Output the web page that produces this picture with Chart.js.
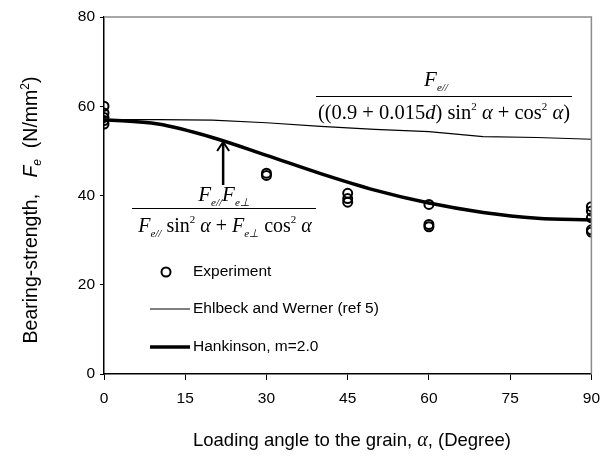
<!DOCTYPE html>
<html>
<head>
<meta charset="utf-8">
<script src="https://cdn.jsdelivr.net/npm/chart.js@4/dist/chart.umd.min.js"></script>
<style>
  html, body { margin: 0; padding: 0; background: #fff; }
  #wrap { width: 609px; height: 463px; }
</style>
</head>
<body>
<div id="wrap"><canvas id="chart" width="609" height="463"></canvas></div>
<script>
// datos
const expAngles = [0, 0, 0, 0, 0, 30, 30, 45, 45, 45, 60, 60, 60, 90, 90, 90, 90, 90];
const expValues = [60, 58.5, 57.5, 56.8, 56, 44.5, 45, 40.5, 39.3, 38.5, 38, 33.5, 33, 37.5, 36.5, 35, 32.3, 31.8];

const lineAngles = [0, 10, 20, 30, 40, 50, 60, 70, 80, 90];
const ehlbeckValues = [57, 57, 56.9, 56.3, 55.5, 54.8, 54.3, 53.2, 53, 52.6];
const hankinsonValues = [57, 56, 53, 49, 44.9, 41.2, 38.3, 36.2, 34.9, 34.5];

const xTicks = [0, 15, 30, 45, 60, 75, 90];
const yTicks = [0, 20, 40, 60, 80];

const seriesLabels = ['Experiment', 'Ehlbeck and Werner (ref 5)', 'Hankinson, m=2.0'];

const SANS = '"Liberation Sans", Arial, sans-serif';
const SERIF = '"Liberation Serif", "Times New Roman", serif';

function toPoints(xs, ys) {
    return xs.map((x, i) => ({ x: x, y: ys[i] }));
}

// dibuja una secuencia de trozos de texto (para subindices, etc.)
function drawRuns(ctx, runs, x, y, align) {
    let total = 0;
    runs.forEach(r => { ctx.font = r.font; total += ctx.measureText(r.t).width; });
    let cx = align === 'center' ? x - total / 2 : (align === 'right' ? x - total : x);
    ctx.textAlign = 'left';
    ctx.textBaseline = 'alphabetic';
    runs.forEach(r => {
        ctx.font = r.font;
        ctx.fillText(r.t, cx, y + (r.dy || 0));
        cx += ctx.measureText(r.t).width;
    });
    return total;
}

const it = s => 'italic ' + s + 'px ' + SERIF;
const rm = s => s + 'px ' + SERIF;

const decorPlugin = {
    id: 'decor',
    afterDraw(chart) {
        const ctx = chart.ctx;
        const a = chart.chartArea;
        const xs = chart.scales.x;
        const ys = chart.scales.y;
        ctx.save();

        // marco superior y derecho gris
        ctx.strokeStyle = '#8c8c8c';
        ctx.lineWidth = 1.5;
        ctx.beginPath();
        ctx.moveTo(a.left, a.top);
        ctx.lineTo(a.right, a.top);
        ctx.lineTo(a.right, a.bottom);
        ctx.stroke();

        ctx.fillStyle = '#000';

        // titulo eje x
        drawRuns(ctx, [
            { t: 'Loading angle to the grain, ', font: '18.5px ' + SANS },
            { t: 'α', font: it(20) },
            { t: ', (Degree)', font: '18.5px ' + SANS }
        ], 352, 446, 'center');

        // titulo eje y (rotado)
        ctx.save();
        ctx.translate(37, 210);
        ctx.rotate(-Math.PI / 2);
        drawRuns(ctx, [
            { t: 'Bearing-strength,   ', font: '19.5px ' + SANS },
            { t: 'F', font: 'italic 19.5px ' + SANS },
            { t: 'e', font: 'italic 12px ' + SANS, dy: 4 },
            { t: '  (N/mm', font: '19.5px ' + SANS },
            { t: '2', font: '12px ' + SANS, dy: -8 },
            { t: ')', font: '19.5px ' + SANS }
        ], 0, 0, 'center');
        ctx.restore();

        // formula Ehlbeck
        drawRuns(ctx, [
            { t: 'F', font: it(21) },
            { t: 'e//', font: it(11), dy: 5 }
        ], 436, 86, 'center');
        ctx.lineWidth = 1;
        ctx.strokeStyle = '#000';
        ctx.beginPath();
        ctx.moveTo(316, 96.5);
        ctx.lineTo(572, 96.5);
        ctx.stroke();
        drawRuns(ctx, [
            { t: '((0.9 + 0.015', font: rm(20.5) },
            { t: 'd', font: it(20.5) },
            { t: ') sin', font: rm(20.5) },
            { t: '2', font: rm(11), dy: -9 },
            { t: ' α', font: it(20.5) },
            { t: ' + cos', font: rm(20.5) },
            { t: '2', font: rm(11), dy: -9 },
            { t: ' α', font: it(20.5) },
            { t: ')', font: rm(20.5) }
        ], 444, 119, 'center');

        // formula Hankinson
        drawRuns(ctx, [
            { t: 'F', font: it(21) },
            { t: 'e//', font: it(11), dy: 5 },
            { t: 'F', font: it(21) },
            { t: 'e⊥', font: it(11), dy: 5 }
        ], 224, 201, 'center');
        ctx.beginPath();
        ctx.moveTo(132, 208.5);
        ctx.lineTo(316, 208.5);
        ctx.stroke();
        drawRuns(ctx, [
            { t: 'F', font: it(20) },
            { t: 'e//', font: it(11), dy: 5 },
            { t: ' sin', font: rm(20) },
            { t: '2', font: rm(11), dy: -9 },
            { t: ' α', font: it(20) },
            { t: ' + ', font: rm(20) },
            { t: 'F', font: it(20) },
            { t: 'e⊥', font: it(11), dy: 5 },
            { t: ' cos', font: rm(20) },
            { t: '2', font: rm(11), dy: -9 },
            { t: ' α', font: it(20) }
        ], 225, 232, 'center');

        // flecha hacia la curva de Hankinson
        const ax = xs.getPixelForValue(22);
        const ay = ys.getPixelForValue(52.2);
        ctx.lineWidth = 2.5;
        ctx.beginPath();
        ctx.moveTo(ax, 185);
        ctx.lineTo(ax, ay + 2);
        ctx.stroke();
        ctx.lineWidth = 2;
        ctx.beginPath();
        ctx.moveTo(ax - 6, ay + 10);
        ctx.lineTo(ax, ay + 1);
        ctx.lineTo(ax + 6, ay + 10);
        ctx.stroke();

        // leyenda
        const lx = 150, tx = 193;
        ctx.font = '15.5px ' + SANS;
        ctx.textBaseline = 'middle';
        ctx.textAlign = 'left';
        ctx.lineWidth = 2;
        ctx.beginPath();
        ctx.arc(166, 272, 4.5, 0, Math.PI * 2);
        ctx.stroke();
        ctx.fillText(seriesLabels[0], tx, 272);

        ctx.lineWidth = 1.2;
        ctx.beginPath();
        ctx.moveTo(lx, 309);
        ctx.lineTo(190, 309);
        ctx.stroke();
        ctx.fillText(seriesLabels[1], tx, 309);

        ctx.lineWidth = 3.5;
        ctx.beginPath();
        ctx.moveTo(lx, 347);
        ctx.lineTo(190, 347);
        ctx.stroke();
        ctx.fillText(seriesLabels[2], tx, 347);

        ctx.restore();
    }
};

new Chart(document.getElementById('chart'), {
    type: 'scatter',
    data: {
        datasets: [{
            label: seriesLabels[1],
            data: toPoints(lineAngles, ehlbeckValues),
            showLine: true,
            borderColor: '#000',
            borderWidth: 1.2,
            pointRadius: 0,
            tension: 0,
            order: 3
        }, {
            label: seriesLabels[2],
            data: toPoints(lineAngles, hankinsonValues),
            showLine: true,
            borderColor: '#000',
            borderWidth: 3.5,
            pointRadius: 0,
            cubicInterpolationMode: 'monotone',
            order: 2
        }, {
            label: seriesLabels[0],
            data: toPoints(expAngles, expValues),
            showLine: false,
            pointStyle: 'circle',
            pointRadius: 4.5,
            borderWidth: 2,
            borderColor: '#000',
            backgroundColor: 'rgba(0,0,0,0)',
            order: 1
        }]
    },
    options: {
        responsive: false,
        animation: false,
        layout: {
            padding: { left: 0, top: 17, right: 15, bottom: 0 }
        },
        plugins: {
            legend: { display: false },
            tooltip: { enabled: false }
        },
        scales: {
            x: {
                type: 'linear',
                min: 0,
                max: 90,
                afterBuildTicks: s => { s.ticks = xTicks.map(v => ({ value: v })); },
                afterFit: s => { s.height = 89; },
                grid: {
                    drawOnChartArea: false,
                    color: '#000',
                    tickLength: 6,
                    lineWidth: 1
                },
                border: { color: '#000', width: 1.5 },
                ticks: {
                    color: '#000',
                    padding: 9,
                    maxRotation: 0,
                    font: { family: SANS, size: 15.5 }
                }
            },
            y: {
                type: 'linear',
                min: 0,
                max: 80,
                afterBuildTicks: s => { s.ticks = yTicks.map(v => ({ value: v })); },
                afterFit: s => { s.width = 104; },
                grid: {
                    drawOnChartArea: false,
                    color: '#000',
                    tickLength: 4,
                    lineWidth: 1
                },
                border: { color: '#000', width: 1.5 },
                ticks: {
                    color: '#000',
                    padding: 5,
                    font: { family: SANS, size: 15.5 }
                }
            }
        }
    },
    plugins: [decorPlugin]
});
</script>
</body>
</html>
